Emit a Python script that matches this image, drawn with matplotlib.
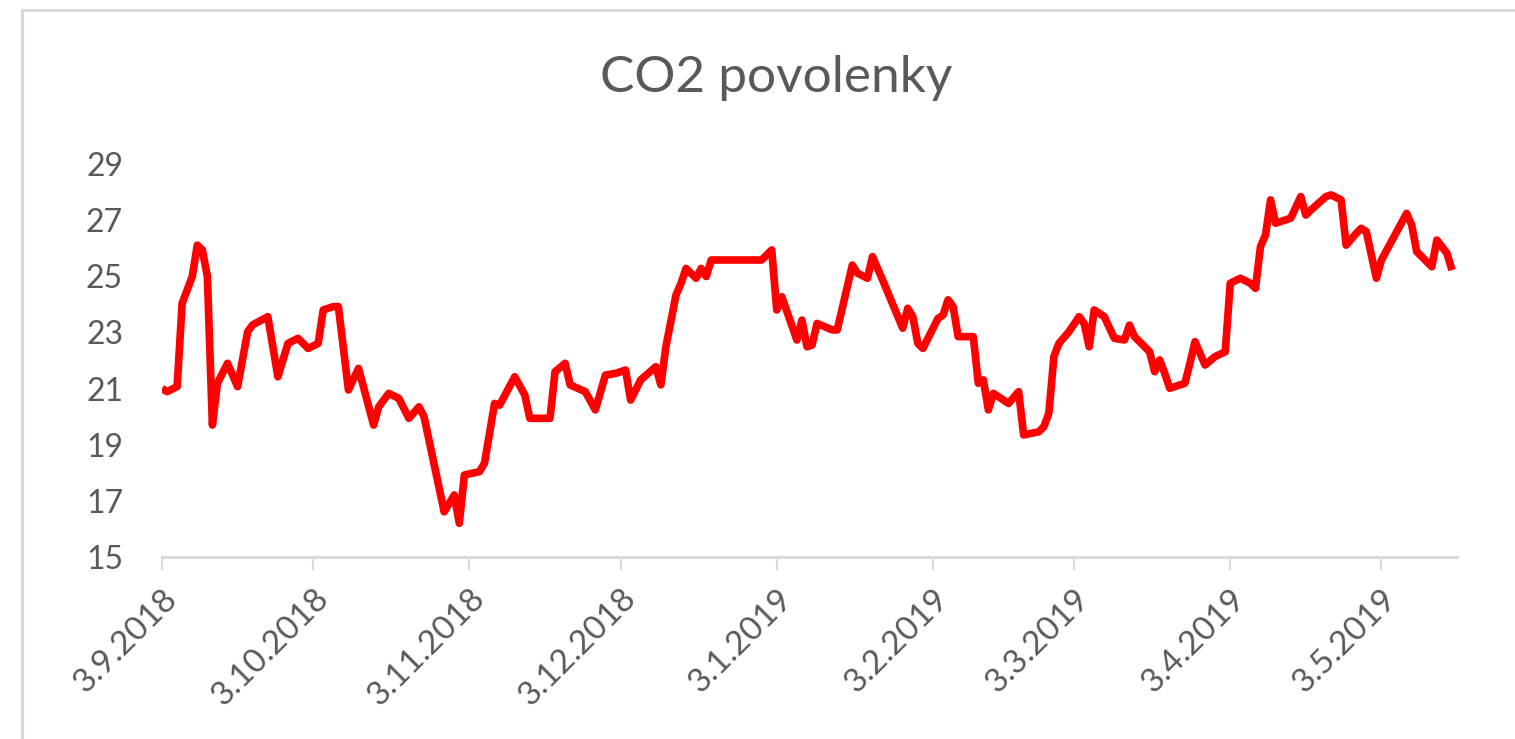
import matplotlib
matplotlib.use("Agg")
import matplotlib.pyplot as plt
from matplotlib.lines import Line2D
import pandas as pd

# price points (date, value)
dates = [
    "2018-09-03", "2018-09-04", "2018-09-06", "2018-09-07", "2018-09-09", "2018-09-10",
    "2018-09-11", "2018-09-12", "2018-09-13", "2018-09-14", "2018-09-16", "2018-09-18",
    "2018-09-20", "2018-09-21", "2018-09-24", "2018-09-26", "2018-09-28", "2018-09-30",
    "2018-10-02", "2018-10-04", "2018-10-05", "2018-10-07", "2018-10-08", "2018-10-10",
    "2018-10-12", "2018-10-15", "2018-10-16", "2018-10-18", "2018-10-20", "2018-10-22",
    "2018-10-24", "2018-10-25", "2018-10-29", "2018-10-31", "2018-11-01", "2018-11-02",
    "2018-11-05", "2018-11-06", "2018-11-08", "2018-11-09", "2018-11-12", "2018-11-14",
    "2018-11-15", "2018-11-19", "2018-11-20", "2018-11-22", "2018-11-23", "2018-11-26",
    "2018-11-28", "2018-11-30", "2018-12-02", "2018-12-04", "2018-12-05", "2018-12-07",
    "2018-12-10", "2018-12-11", "2018-12-12", "2018-12-14", "2018-12-15", "2018-12-16",
    "2018-12-18", "2018-12-19", "2018-12-20", "2018-12-21", "2018-12-31", "2019-01-02",
    "2019-01-03", "2019-01-04", "2019-01-07", "2019-01-08", "2019-01-09", "2019-01-10",
    "2019-01-11", "2019-01-14", "2019-01-15", "2019-01-18", "2019-01-19", "2019-01-21",
    "2019-01-22", "2019-01-24", "2019-01-28", "2019-01-29", "2019-01-30", "2019-01-31",
    "2019-02-01", "2019-02-04", "2019-02-05", "2019-02-06", "2019-02-07", "2019-02-08",
    "2019-02-11", "2019-02-12", "2019-02-13", "2019-02-14", "2019-02-15", "2019-02-18",
    "2019-02-20", "2019-02-21", "2019-02-24", "2019-02-25", "2019-02-26", "2019-02-27",
    "2019-02-28", "2019-03-02", "2019-03-04", "2019-03-05", "2019-03-06", "2019-03-07",
    "2019-03-09", "2019-03-11", "2019-03-13", "2019-03-14", "2019-03-15", "2019-03-18",
    "2019-03-19", "2019-03-20", "2019-03-21", "2019-03-22", "2019-03-25", "2019-03-26",
    "2019-03-27", "2019-03-29", "2019-03-31", "2019-04-02", "2019-04-03", "2019-04-05",
    "2019-04-07", "2019-04-08", "2019-04-09", "2019-04-10", "2019-04-11", "2019-04-12",
    "2019-04-15", "2019-04-17", "2019-04-18", "2019-04-19", "2019-04-22", "2019-04-23",
    "2019-04-25", "2019-04-26", "2019-04-28", "2019-04-29", "2019-04-30", "2019-05-02",
    "2019-05-03", "2019-05-08", "2019-05-09", "2019-05-10", "2019-05-13", "2019-05-14",
    "2019-05-16", "2019-05-17",
]
prices = [
    21.00, 20.89, 21.07, 24.04, 24.99, 26.11,
    25.94, 25.00, 19.70, 21.19, 21.90, 21.07,
    23.03, 23.27, 23.56, 21.42, 22.61, 22.79,
    22.43, 22.61, 23.80, 23.92, 23.92, 20.95,
    21.72, 19.70, 20.35, 20.83, 20.65, 19.94,
    20.35, 20.00, 16.61, 17.21, 16.20, 17.92,
    18.04, 18.34, 20.47, 20.41, 21.42, 20.77,
    19.94, 19.94, 21.60, 21.90, 21.13, 20.89,
    20.24, 21.48, 21.54, 21.66, 20.59, 21.31,
    21.78, 21.13, 22.49, 24.33, 24.75, 25.28,
    24.93, 25.28, 24.99, 25.58, 25.58, 25.94,
    23.80, 24.27, 22.73, 23.44, 22.49, 22.55,
    23.32, 23.09, 23.09, 25.40, 25.11, 24.93,
    25.70, 24.87, 23.15, 23.86, 23.56, 22.61,
    22.43, 23.50, 23.62, 24.16, 23.92, 22.85,
    22.85, 21.19, 21.31, 20.24, 20.83, 20.47,
    20.89, 19.35, 19.46, 19.64, 20.12, 22.14,
    22.61, 23.03, 23.56, 23.32, 22.49, 23.80,
    23.56, 22.79, 22.73, 23.26, 22.85, 22.31,
    21.60, 22.02, 21.54, 21.01, 21.19, 21.90,
    22.67, 21.84, 22.14, 22.31, 24.75, 24.93,
    24.75, 24.57, 26.06, 26.47, 27.72, 26.89,
    27.07, 27.84, 27.18, 27.36, 27.84, 27.90,
    27.72, 26.11, 26.53, 26.71, 26.59, 24.93,
    25.58, 27.24, 26.83, 25.88, 25.34, 26.29,
    25.82, 25.22,
]

tick_dates = ["2018-09-03", "2018-10-03", "2018-11-03", "2018-12-03", "2019-01-03",
              "2019-02-03", "2019-03-03", "2019-04-03", "2019-05-03"]
tick_labels = ["3.9.2018", "3.10.2018", "3.11.2018", "3.12.2018", "3.1.2019",
               "3.2.2019", "3.3.2019", "3.4.2019", "3.5.2019"]
y_ticks = [15, 17, 19, 21, 23, 25, 27, 29]

title = "CO2 povolenky"
txt = "#595959"
grey = "#d9d9d9"

plt.rcParams['font.family'] = ['Lato', 'DejaVu Sans']

fig = plt.figure(figsize=(15.15, 7.39), dpi=100)
ax = fig.add_axes([162 / 1515, 1 - 557 / 739, (1457 - 162) / 1515, (557 - 164) / 739])

x = pd.to_datetime(dates)
ax.plot(x, prices, color="#ff0000", lw=5.5, solid_joinstyle="round", solid_capstyle="butt")

ax.set_xlim(pd.Timestamp("2018-09-03"), pd.Timestamp("2019-05-18"))
ax.set_ylim(15, 29)
ax.set_yticks(y_ticks)
ax.set_yticklabels([str(v) for v in y_ticks])
ax.set_xticks(pd.to_datetime(tick_dates))
ax.set_xticklabels(tick_labels, rotation=45, ha="right", va="top", rotation_mode="anchor")

for s in ["top", "right", "left"]:
    ax.spines[s].set_visible(False)
ax.spines["bottom"].set_color(grey)
ax.spines["bottom"].set_linewidth(2.2)
ax.tick_params(axis="x", colors=grey, length=9, width=1.5, labelcolor=txt, labelsize=24, pad=10)
ax.tick_params(axis="y", length=0, labelcolor=txt, labelsize=23, pad=28)

fig.text(0.5 * (603 + 950) / 1515, 1 - 78 / 739, title, ha="center", va="center",
         fontsize=37, color=txt)

# outer chart-area border (top and left edges visible in the crop)
fig.add_artist(Line2D([22 / 1515, 1], [1 - 10 / 739, 1 - 10 / 739], color=grey, lw=2.2))
fig.add_artist(Line2D([22 / 1515, 22 / 1515], [0, 1 - 10 / 739], color=grey, lw=2.2))

fig.savefig("out.png", dpi=100)
